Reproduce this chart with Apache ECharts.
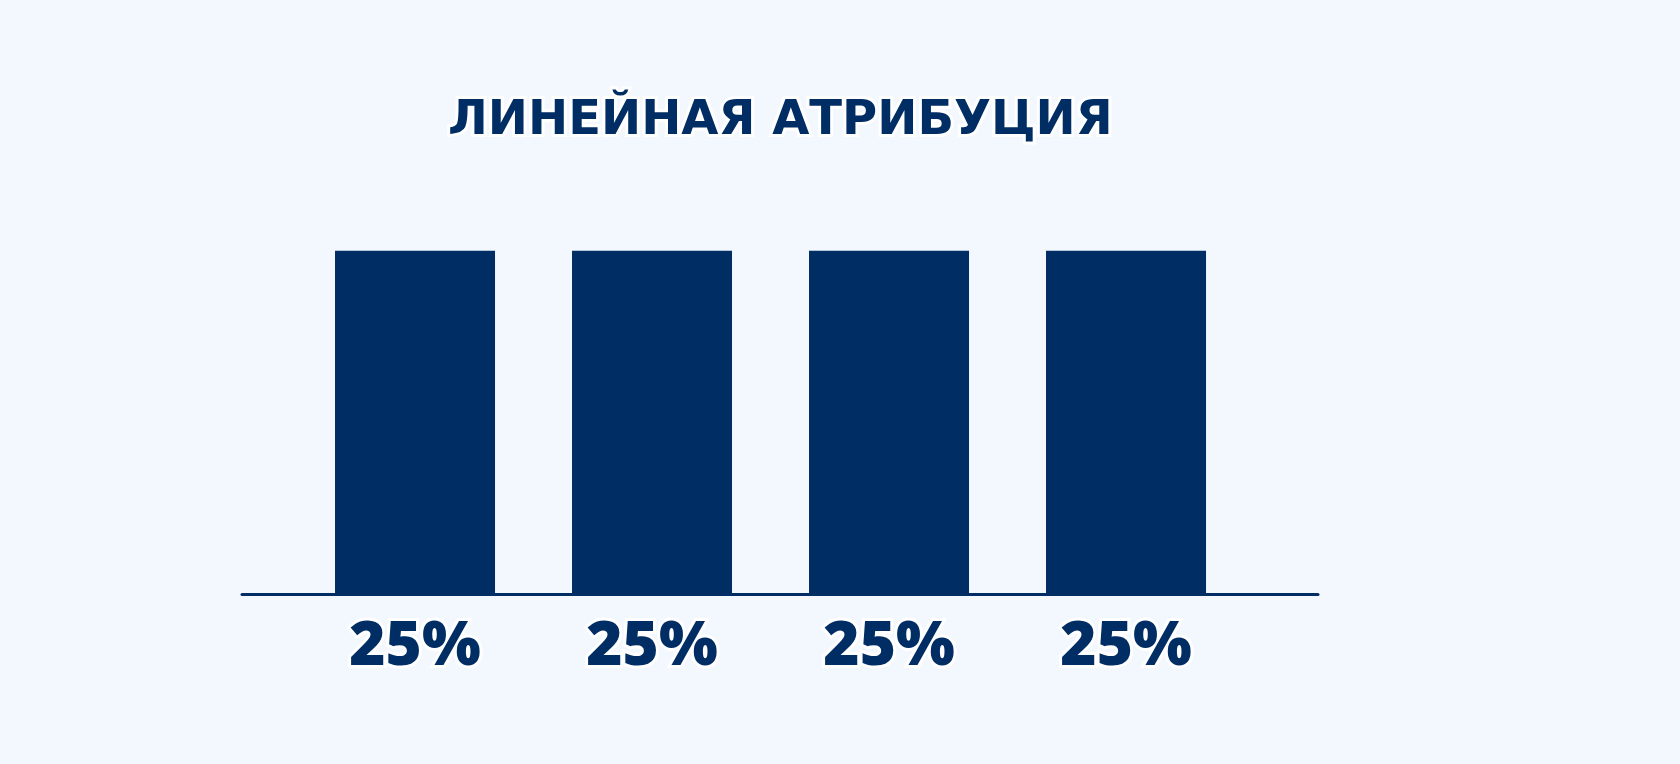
<!DOCTYPE html>
<html lang="ru">
<head>
    <meta charset="UTF-8">
    <title>Линейная атрибуция</title>
    <script src="https://cdn.jsdelivr.net/npm/echarts@6/dist/echarts.min.js"></script>
    <style>
        html, body {
            margin: 0;
            padding: 0;
            background: #f3f7fe;
        }
        #chart {
            width: 1680px;
            height: 764px;
        }
    </style>
</head>
<body>
<div id="chart"></div>
<script>
    // data
    var titleText = 'ЛИНЕЙНАЯ АТРИБУЦИЯ';
    var positions = [1, 2, 3, 4];
    var shares = [25, 25, 25, 25];

    var navy = '#002d64';

    var points = positions.map(function (p, i) {
        return [p, shares[i]];
    });

    var myChart = echarts.init(document.getElementById('chart'));
    var option = {
        backgroundColor: '#f3f7fe',
        animation: false,
        title: {
            text: titleText,
            left: 443,
            top: 93,
            textStyle: {
                fontFamily: 'DejaVu Sans',
                fontWeight: 'bold',
                fontSize: 48,
                color: navy,
                textBorderColor: '#ffffff',
                textBorderWidth: 6
            }
        },
        grid: {
            left: 242,
            right: 362,
            top: 182,
            bottom: 170
        },
        xAxis: {
            type: 'value',
            min: 0.27,
            max: 4.81,
            splitLine: { show: false },
            axisTick: { show: false },
            axisLabel: { show: false },
            axisLine: {
                show: true,
                onZero: false,
                lineStyle: { color: navy, width: 3 }
            }
        },
        yAxis: {
            type: 'value',
            min: 0,
            max: 30,
            show: false
        },
        series: [{
            type: 'bar',
            data: points,
            barWidth: 160,
            itemStyle: { color: navy },
            label: {
                show: true,
                position: 'bottom',
                distance: 22,
                formatter: function (p) {
                    return p.value[1] + '%';
                },
                fontFamily: 'Open Sans',
                fontWeight: 800,
                fontSize: 62,
                color: navy,
                textBorderColor: '#ffffff',
                textBorderWidth: 6
            }
        }]
    };
    myChart.setOption(option);
</script>
</body>
</html>
